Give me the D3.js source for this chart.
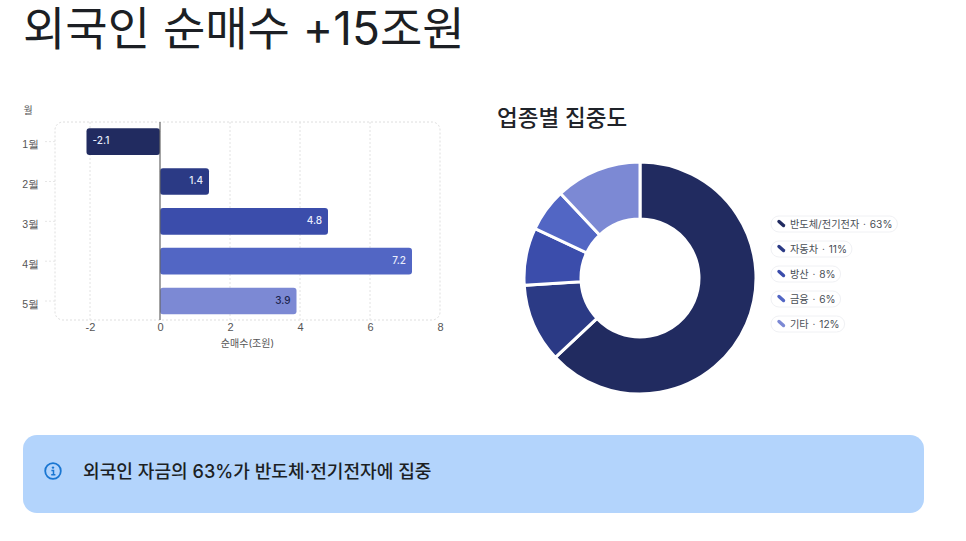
<!DOCTYPE html>
<html>
<head>
<meta charset="utf-8">
<script src="https://cdn.jsdelivr.net/npm/d3@7"></script>
<style>
  html, body { margin: 0; padding: 0; background: #fff; }
  svg { display: block; font-family: "Inter", "Noto Sans CJK KR", sans-serif; }
  .tick-label { font-size: 11px; fill: #555; }
</style>
</head>
<body>
<svg id="paper" width="966" height="541"></svg>
<script>
const months = ["1월", "2월", "3월", "4월", "5월"];
const netBuy = [-2.1, 1.4, 4.8, 7.2, 3.9];
const xTicks = [-2, 0, 2, 4, 6, 8];
const sectors = ["반도체/전기전자", "자동차", "방산", "금융", "기타"];
const shares = [63, 11, 8, 6, 12];
const palette = ["#212b60", "#2b3a85", "#3b4dab", "#5266c4", "#7c89d4"];

const svg = d3.select("#paper");

// title
svg.append("text")
  .attr("x", 23).attr("y", 45)
  .attr("font-size", 46).attr("font-weight", 400).attr("fill", "#1c1f24")
  .text("외국인 순매수 +15조원");

// start bar chart
const x = d3.scaleLinear().domain([-3, 8]).range([55, 440]);
const y = d3.scaleBand().domain(months).range([121.7, 320.95]).paddingInner(0.33).paddingOuter(0.165);
const bar = svg.append("g").attr("class", "bar-chart");

bar.append("rect")
  .attr("x", 55).attr("y", 122).attr("width", 385).attr("height", 198).attr("rx", 8)
  .attr("fill", "none").attr("stroke", "#dedede").attr("stroke-dasharray", "2 2");

bar.selectAll(".grid")
  .data(xTicks.filter((t) => t !== 0 && t !== 8))
  .enter()
  .append("line")
  .attr("class", "grid")
  .attr("x1", (t) => x(t)).attr("x2", (t) => x(t))
  .attr("y1", 122).attr("y2", 320)
  .attr("stroke", "#e2e2e2").attr("stroke-dasharray", "2 2");

const xAxis = bar.append("g")
  .attr("transform", "translate(0,320)")
  .call(d3.axisBottom(x).tickValues(xTicks).tickSize(0).tickPadding(3).tickFormat(d3.format("d")));
xAxis.select(".domain").remove();
xAxis.selectAll("text").attr("class", "tick-label").style("font-family", "inherit").text((t) => t);

const yAxis = bar.append("g")
  .attr("transform", "translate(55,0)")
  .call(d3.axisLeft(y).tickSize(10).tickPadding(6));
yAxis.select(".domain").remove();
yAxis.selectAll("line").attr("stroke", "#e6e6e6").attr("stroke-dasharray", "2 2");
yAxis.selectAll("text").attr("class", "tick-label").style("font-family", "inherit")
  .style("font-size", "10.5px").attr("dy", "0.62em");

bar.selectAll(".bar")
  .data(months)
  .enter()
  .append("rect")
  .attr("class", "bar")
  .attr("x", (m, i) => x(Math.min(0, netBuy[i])))
  .attr("y", (m) => y(m))
  .attr("width", (m, i) => Math.abs(x(netBuy[i]) - x(0)))
  .attr("height", y.bandwidth())
  .attr("rx", 3)
  .attr("fill", (m, i) => palette[i]);

bar.append("line")
  .attr("x1", x(0)).attr("x2", x(0)).attr("y1", 122).attr("y2", 320)
  .attr("stroke", "#666").attr("stroke-width", 1.2);

bar.selectAll(".bar-label")
  .data(months)
  .enter()
  .append("text")
  .attr("class", "bar-label")
  .attr("x", (m, i) => netBuy[i] < 0 ? x(netBuy[i]) + 6 : x(netBuy[i]) - 6)
  .attr("y", (m) => y(m) + y.bandwidth() / 2 - 1)
  .attr("dy", "0.35em")
  .attr("text-anchor", (m, i) => netBuy[i] < 0 ? "start" : "end")
  .attr("font-size", 10).attr("font-weight", 500)
  .attr("fill", (m, i) => i === 4 ? "#1d2550" : "#e8ecfb")
  .text((m, i) => netBuy[i]);

bar.append("text")
  .attr("x", 28).attr("y", 114).attr("text-anchor", "middle")
  .attr("class", "tick-label").style("font-size", "10px")
  .text("월");
bar.append("text")
  .attr("x", x(2.5)).attr("y", 347).attr("text-anchor", "middle")
  .attr("class", "tick-label").style("font-size", "10px")
  .text("순매수(조원)");
// end bar chart

// start donut
svg.append("text")
  .attr("x", 497).attr("y", 126)
  .attr("font-size", 22.5).attr("font-weight", 500).attr("fill", "#1f2329")
  .text("업종별 집중도");

const pie = d3.pie().sort(null)(shares);
const arc = d3.arc().innerRadius(59).outerRadius(116);
svg.append("g")
  .attr("transform", "translate(640,278)")
  .selectAll("path")
  .data(pie)
  .enter()
  .append("path")
  .attr("d", arc)
  .attr("fill", (d, i) => palette[i])
  .attr("stroke", "#fff").attr("stroke-width", 3);
// end donut

// legend
const legendY = d3.scalePoint().domain(sectors).range([224, 324]);
const legend = svg.append("g").selectAll("g")
  .data(sectors)
  .enter()
  .append("g")
  .attr("transform", (s) => `translate(771,${legendY(s)})`);

legend.append("rect")
  .attr("y", -8).attr("height", 16).attr("rx", 8)
  .attr("fill", "#fff").attr("stroke", "#f0f1f4");
legend.append("line")
  .attr("x1", 8).attr("y1", -2.5).attr("x2", 12.5).attr("y2", 1.5)
  .attr("stroke", (s, i) => palette[i]).attr("stroke-width", 3.4).attr("stroke-linecap", "round");
legend.append("text")
  .attr("x", 19).attr("dy", "0.35em")
  .attr("font-size", 10.2).attr("fill", "#4a4f57")
  .text((s, i) => `${s} \u200a·\u200a ${shares[i]}%`);
legend.each(function () {
  const g = d3.select(this);
  g.select("rect").attr("width", g.select("text").node().getComputedTextLength() + 24);
});

// callout
svg.append("rect")
  .attr("x", 23).attr("y", 435).attr("width", 901).attr("height", 78).attr("rx", 14)
  .attr("fill", "#b3d4fc");
const icon = svg.append("g").attr("transform", "translate(53,471)");
icon.append("circle").attr("r", 7.8).attr("fill", "none").attr("stroke", "#1976d2").attr("stroke-width", 1.8);
icon.append("circle").attr("cy", -3.4).attr("r", 1.2).attr("fill", "#1976d2");
icon.append("path").attr("d", "M-1.6,-0.6H0.5V3.6M-1.8,3.8H2.4")
  .attr("fill", "none").attr("stroke", "#1976d2").attr("stroke-width", 1.5);
svg.append("text")
  .attr("x", 83).attr("y", 478)
  .attr("font-size", 18.1).attr("font-weight", 500).attr("fill", "#1c1f24")
  .text("외국인 자금의 63%가 반도체·전기전자에 집중");
</script>
</body>
</html>
